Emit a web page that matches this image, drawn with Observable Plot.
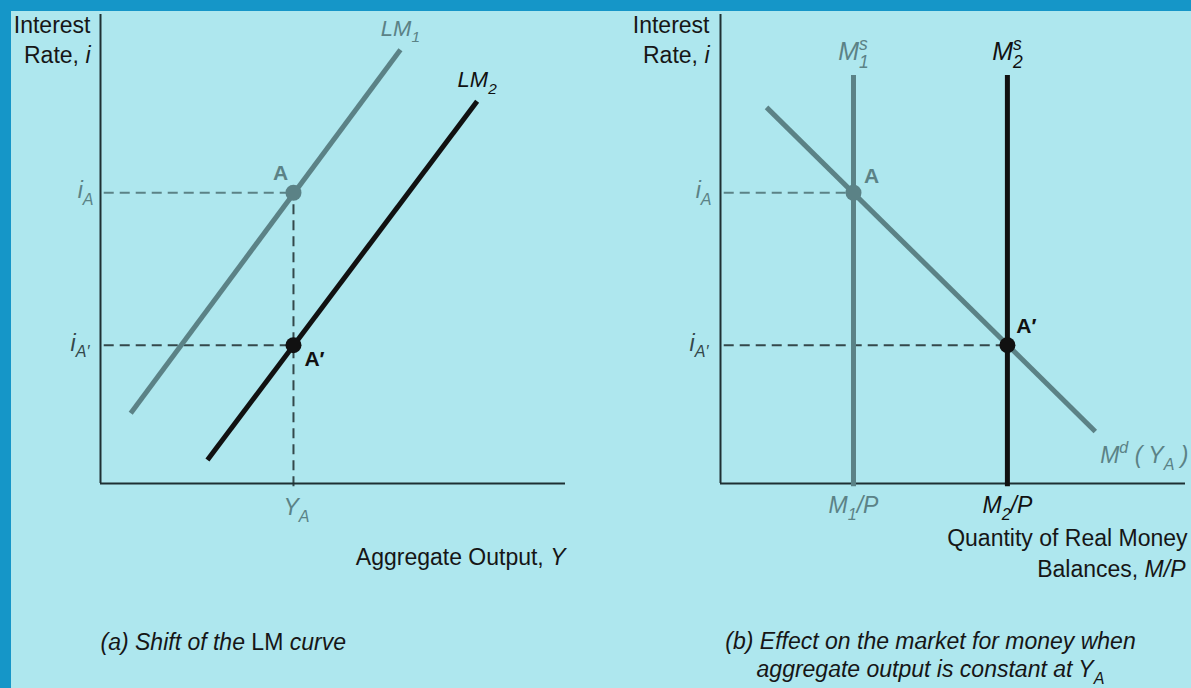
<!DOCTYPE html>
<html>
<head>
<meta charset="utf-8">
<script src="https://cdn.jsdelivr.net/npm/d3@7"></script>
<script src="https://cdn.jsdelivr.net/npm/@observablehq/plot@0.6"></script>
<style>
  html, body { margin: 0; padding: 0; }
  #frame { position: relative; width: 1191px; height: 688px; background: #1596c8; overflow: hidden; }
  #inner { position: absolute; left: 11px; top: 11px; width: 1180px; height: 677px; background: #aee7ee; }
  #a, #b { position: absolute; top: 0; }
  #a { left: 0; }
  #b { left: 590px; }
  svg { overflow: visible; }
</style>
</head>
<body>
<div id="frame"><div id="inner"><div id="a"></div><div id="b"></div></div></div>
<script>
// ---------- data (abstract units, both axes run 0..axisMax) ----------
const axisMax = 10;
// Panel (a): LM curves, aggregate output Y vs interest rate i
const lm1Output = [0.65, 6.45];
const lm1Rate   = [1.5, 9.25];
const lm2Output = [2.3, 8.1];
const lm2Rate   = [0.5, 8.15];
const outputA   = [4.15];        // Y_A
const ratesA    = [6.2, 2.95];   // i_A, i_A'
// Panel (b): market for money
const moneySupply = [2.86, 6.17]; // M1/P, M2/P
const supplyTop   = [8.7];
const mdQuantity  = [0.99, 8.06];
const mdRate      = [8.02, 1.11];

// ---------- styles ----------
const FONT = "'Liberation Sans', Arial, Helvetica, sans-serif";
const GRAY = "#5b8286";
const DARK = "#111111";
const AXIS = "#1e3033";
const DASH_DARK = "#34484b";
const TEXT = "#161616";

const pts = (xs, ys) => xs.map((x, k) => ({x, y: ys[k]}));
const label = (t, x, y, o = {}) =>
  Plot.text([t], {x: [x], y: [y], text: d => d, fontSize: 20, fill: TEXT, ...o});

function panel(marks, marginLeft, marginRight) {
  return Plot.plot({
    width: 590, height: 677,
    marginLeft, marginRight, marginTop: 3, marginBottom: 205,
    x: {domain: [0, axisMax], axis: null},
    y: {domain: [0, axisMax], axis: null},
    style: {background: "transparent", fontFamily: FONT, overflow: "visible"},
    marks
  });
}

const YA = outputA[0], iA = ratesA[0], iA2 = ratesA[1];
const M1 = moneySupply[0], M2 = moneySupply[1], MT = supplyTop[0];

const dash = {strokeWidth: 2, strokeDasharray: "10,6"};

const plotA = panel([
  Plot.ruleY([iA], {x1: 0.08, x2: YA, stroke: GRAY, ...dash}),
  Plot.ruleY([iA2], {x1: 0.08, x2: YA, stroke: DASH_DARK, ...dash}),
  Plot.ruleX([YA], {y1: -0.07, y2: iA, stroke: DASH_DARK, ...dash}),
  Plot.ruleX([0], {y1: 0, y2: axisMax, stroke: AXIS, strokeWidth: 2}),
  Plot.ruleY([0], {x1: 0, x2: axisMax, stroke: AXIS, strokeWidth: 2}),
  Plot.line(pts(lm1Output, lm1Rate), {x: "x", y: "y", stroke: GRAY, strokeWidth: 5, strokeLinecap: "butt"}),
  Plot.line(pts(lm2Output, lm2Rate), {x: "x", y: "y", stroke: DARK, strokeWidth: 5, strokeLinecap: "butt"}),
  Plot.dot([{x: YA, y: iA}], {x: "x", y: "y", r: 8, fill: GRAY}),
  Plot.dot([{x: YA, y: iA2}], {x: "x", y: "y", r: 8, fill: DARK}),
  label("Interest", 0, axisMax, {textAnchor: "end", dx: -10, dy: 11, fontSize: 23}),
  label("Rate, *i*", 0, axisMax, {textAnchor: "end", dx: -10, dy: 41, fontSize: 23}),
  label("*LM_{1}*", lm1Output[1], lm1Rate[1], {dy: -21, fill: GRAY, fontSize: 22}),
  label("*LM_{2}*", lm2Output[1], lm2Rate[1], {dy: -21, fill: DARK, fontSize: 22}),
  label("*i_{A}*", 0, iA, {textAnchor: "end", dx: -7, dy: -2, fill: GRAY, fontSize: 23}),
  label("*i_{A′}*", 0, iA2, {textAnchor: "end", dx: -11, dy: -2, fill: DASH_DARK, fontSize: 23}),
  label("A", YA, iA, {dx: -13, dy: -19, fontWeight: "bold", fill: GRAY, fontSize: 21}),
  label("A′", YA, iA2, {dx: 21, dy: 14, fontWeight: "bold", fill: DARK, fontSize: 21}),
  label("*Y_{A}*", YA, 0, {dx: 3, dy: 24, fill: GRAY, fontSize: 23}),
  label("Aggregate Output, *Y*", axisMax, 0, {textAnchor: "end", dy: 74, fontSize: 23}),
  label("*(a) Shift of the* LM *curve*", 0, 0, {textAnchor: "start", dy: 159, fontSize: 23})
], 89, 36);

const plotB = panel([
  Plot.ruleY([iA], {x1: 0.08, x2: M1, stroke: GRAY, ...dash}),
  Plot.ruleY([iA2], {x1: 0.08, x2: M2, stroke: DASH_DARK, ...dash}),
  Plot.ruleX([0], {y1: 0, y2: axisMax, stroke: AXIS, strokeWidth: 2}),
  Plot.ruleY([0], {x1: 0, x2: axisMax, stroke: AXIS, strokeWidth: 2}),
  Plot.ruleX([M1], {y1: -0.07, y2: MT, stroke: GRAY, strokeWidth: 5}),
  Plot.ruleX([M2], {y1: -0.07, y2: MT, stroke: DARK, strokeWidth: 5}),
  Plot.line(pts(mdQuantity, mdRate), {x: "x", y: "y", stroke: GRAY, strokeWidth: 5, strokeLinecap: "butt"}),
  Plot.dot([{x: M1, y: iA}], {x: "x", y: "y", r: 8, fill: GRAY}),
  Plot.dot([{x: M2, y: iA2}], {x: "x", y: "y", r: 8, fill: DARK}),
  label("Interest", 0, axisMax, {textAnchor: "end", dx: -11, dy: 11, fontSize: 23}),
  label("Rate, *i*", 0, axisMax, {textAnchor: "end", dx: -11, dy: 41, fontSize: 23}),
  label("*M^{s}_{1}*", M1, MT, {dy: -23, fill: GRAY, fontSize: 25}),
  label("*M^{s}_{2}*", M2, MT, {dy: -23, fill: DARK, fontSize: 25}),
  label("A", M1, iA, {dx: 18, dy: -16, fontWeight: "bold", fill: GRAY, fontSize: 21}),
  label("A′", M2, iA2, {dx: 19, dy: -19, fontWeight: "bold", fill: DARK, fontSize: 21}),
  label("*i_{A}*", 0, iA, {textAnchor: "end", dx: -9, dy: -2, fill: GRAY, fontSize: 23}),
  label("*i_{A′}*", 0, iA2, {textAnchor: "end", dx: -12, dy: -2, fill: DASH_DARK, fontSize: 23}),
  label("*M^{d} ( Y_{A} )*", axisMax, 0, {textAnchor: "end", dx: 3, dy: -28, fill: GRAY, fontSize: 23}),
  label("*M_{1}/P*", M1, 0, {dy: 22, fill: GRAY, fontSize: 23}),
  label("*M_{2}/P*", M2, 0, {dy: 22, fill: DARK, fontSize: 23}),
  label("Quantity of Real Money", axisMax, 0, {textAnchor: "end", dx: 2, dy: 55, fontSize: 23}),
  label("Balances, *M/P*", axisMax, 0, {textAnchor: "end", dx: 0, dy: 86, fontSize: 23}),
  label("*(b) Effect on the market for money when*", 0, 0, {dx: 210, dy: 158, fontSize: 23}),
  label("*aggregate output is constant at Y_{A}*", 0, 0, {dx: 210, dy: 186, fontSize: 23})
], 119, 6);

document.getElementById("a").appendChild(plotA);
document.getElementById("b").appendChild(plotB);

// ---------- rich text: *italic*, _{sub}, ^{sup} ----------
function richify(root) {
  const NS = "http://www.w3.org/2000/svg";
  root.querySelectorAll("text").forEach(el => {
    const s = el.textContent;
    if (!/[*_^]/.test(s)) return;
    const fs = parseFloat(getComputedStyle(el).fontSize) || 20;
    const runs = [];
    let italic = false, i = 0;
    const isScript = k => (s[k] === "_" || s[k] === "^") && s[k + 1] === "{";
    while (i < s.length) {
      if (s[i] === "*") { italic = !italic; i++; continue; }
      if (isScript(i)) {
        const j = s.indexOf("}", i);
        runs.push({t: s.slice(i + 2, j), italic, pos: s[i] === "_" ? "sub" : "sup"});
        i = j + 1; continue;
      }
      let j = i;
      while (j < s.length && s[j] !== "*" && !isScript(j)) j++;
      runs.push({t: s.slice(i, j), italic, pos: "base"});
      i = j;
    }
    el.textContent = "";
    let cur = 0, prev = null;
    for (const r of runs) {
      if (!r.t) continue;
      const ts = document.createElementNS(NS, "tspan");
      ts.textContent = r.t;
      ts.setAttribute("font-style", r.italic ? "italic" : "normal");
      let off = 0;
      if (r.pos === "sub") { off = fs * 0.3; ts.setAttribute("font-size", (fs * 0.7).toFixed(1)); }
      if (r.pos === "sup") { off = -fs * 0.42; ts.setAttribute("font-size", (fs * 0.7).toFixed(1)); }
      if (off !== cur) ts.setAttribute("dy", (off - cur).toFixed(1));
      cur = off;
      el.appendChild(ts);
      if (r.pos === "sub" && prev && prev.pos === "sup") {
        ts.setAttribute("dx", (-prev.el.getComputedTextLength()).toFixed(1));
      }
      r.el = ts;
      prev = r;
    }
  });
}
richify(plotA);
richify(plotB);
</script>
</body>
</html>
